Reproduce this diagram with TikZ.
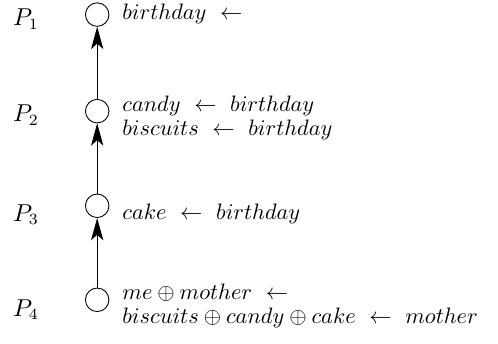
\documentclass[tikz,border=0pt]{standalone}
\usepackage{amsmath,amssymb}
\usetikzlibrary{arrows.meta}
\tikzset{
  state/.style={draw,circle,minimum size=0.37cm,inner sep=0pt,thin},
  rule/.style={anchor=base west,inner sep=0pt,align=left,%
    font=\fontsize{10}{10.5}\selectfont},
  level/.style={anchor=base west,inner sep=0pt,font=\fontsize{10.5}{12}\selectfont},
  flow/.style={-{Stealth[length=10pt,width=5.5pt,inset=2.5pt]},thin},
}

\begin{document}
\begin{tikzpicture}
\useasboundingbox (0,0) rectangle (7.84,5.40);
% program levels
\node[level] (p1) at (0.2,5.00) {$P_1$};
\node[level] (p2) at (0.2,3.48) {$P_2$};
\node[level] (p3) at (0.2,1.92) {$P_3$};
\node[level] (p4) at (0.2,0.425) {$P_4$};
% states
\node[state] (s1) at (1.53,5.17) {};
\node[state] (s2) at (1.53,3.65) {};
\node[state] (s3) at (1.53,2.16) {};
\node[state] (s4) at (1.53,0.68) {};
\draw[flow] (s2) -- (s1);
\draw[flow] (s3) -- (s2);
\draw[flow] (s4) -- (s3);
% rules (base anchor = last line)
\node[rule] (r1) at (1.92,5.095) {$birthday\ \leftarrow$};
\node[rule] (r2) at (1.92,3.27) {$candy\ \leftarrow\ birthday$\\
  $biscuits\ \leftarrow\ birthday$};
\node[rule] (r3) at (1.92,1.95) {$cake\ \leftarrow\ birthday$};
\node[rule] (r4) at (1.92,0.31) {$me \oplus mother\ \leftarrow$\\
  $biscuits \oplus candy \oplus cake\ \leftarrow\ mother$};
\end{tikzpicture}
\end{document}
